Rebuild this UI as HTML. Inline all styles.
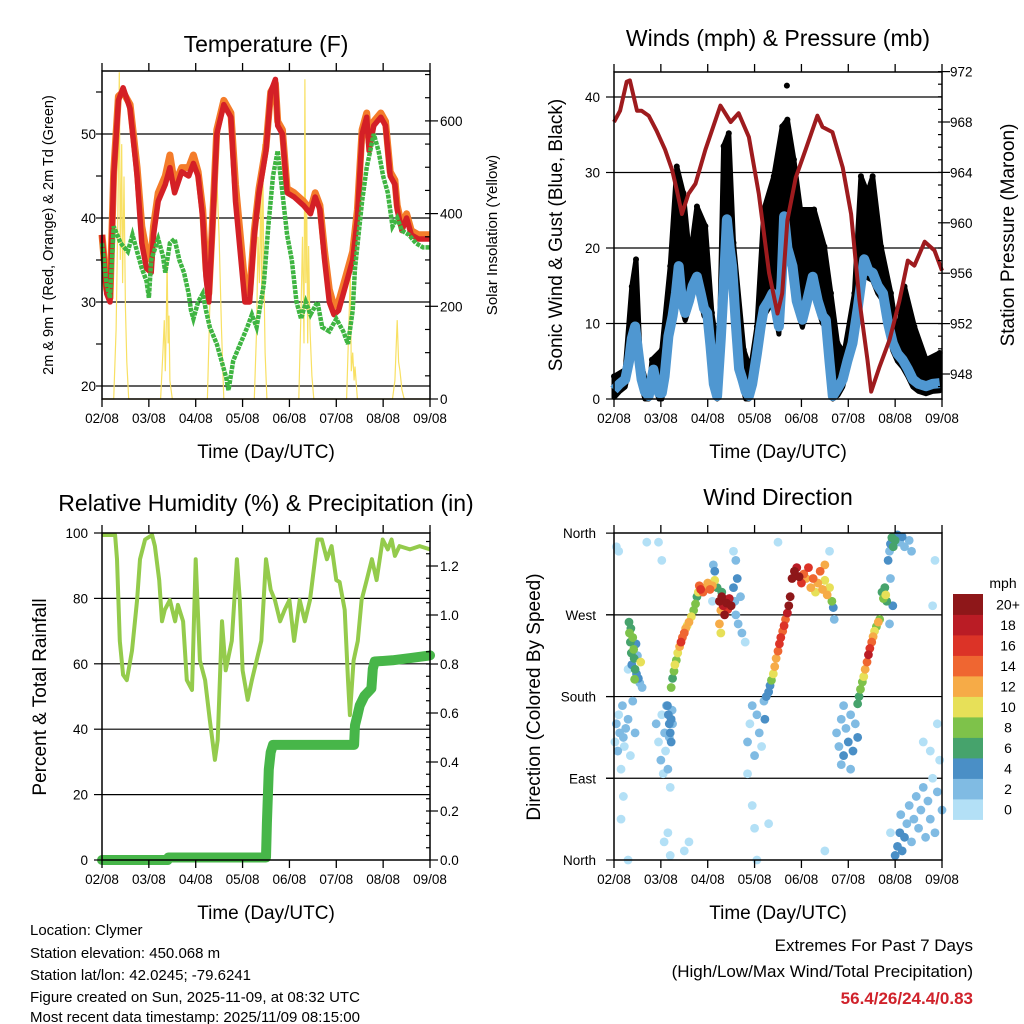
<!DOCTYPE html>
<html><head><meta charset="utf-8"><style>
html,body{margin:0;padding:0;background:#fff}
svg{display:block;font-family:"Liberation Sans",sans-serif}
</style></head><body>
<svg id="c" width="1024" height="1024" viewBox="0 0 1024 1024" xmlns="http://www.w3.org/2000/svg">
<rect width="1024" height="1024" fill="#fff"/>
<g id="p1"></g>
<g id="p2"></g>
<g id="p3"></g>
<g id="p4"></g>
<text x="266" y="52" font-size="23" text-anchor="middle">Temperature (F)</text>
<text x="778" y="46" font-size="23" text-anchor="middle">Winds (mph) &amp; Pressure (mb)</text>
<text x="266" y="511" font-size="23" text-anchor="middle">Relative Humidity (%) &amp; Precipitation (in)</text>
<text x="778" y="505" font-size="23" text-anchor="middle">Wind Direction</text>
<text transform="translate(53,235) rotate(-90)" font-size="14.5" text-anchor="middle">2m &amp; 9m T (Red, Orange) &amp; 2m Td (Green)</text>
<text transform="translate(497,235) rotate(-90)" font-size="15" text-anchor="middle">Solar Insolation (Yellow)</text>
<text transform="translate(562,235) rotate(-90)" font-size="19" text-anchor="middle">Sonic Wind &amp; Gust (Blue, Black)</text>
<text transform="translate(1014,235) rotate(-90)" font-size="19" text-anchor="middle">Station Pressure (Maroon)</text>
<text transform="translate(46,697) rotate(-90)" font-size="19" text-anchor="middle">Percent &amp; Total Rainfall</text>
<text transform="translate(540,697) rotate(-90)" font-size="19" text-anchor="middle">Direction (Colored By Speed)</text>
<text x="266" y="458" font-size="19" text-anchor="middle">Time (Day/UTC)</text>
<text x="778" y="458" font-size="19" text-anchor="middle">Time (Day/UTC)</text>
<text x="266" y="919" font-size="19" text-anchor="middle">Time (Day/UTC)</text>
<text x="778" y="919" font-size="19" text-anchor="middle">Time (Day/UTC)</text>
<g font-size="15">
<text x="30" y="935">Location: Clymer</text>
<text x="30" y="958">Station elevation: 450.068 m</text>
<text x="30" y="980">Station lat/lon: 42.0245; -79.6241</text>
<text x="30" y="1002">Figure created on Sun, 2025-11-09, at 08:32 UTC</text>
<text x="30" y="1024" dy="-2">Most recent data timestamp: 2025/11/09 08:15:00</text>
</g>
<text x="973" y="951" font-size="17" text-anchor="end">Extremes For Past 7 Days</text>
<text x="973" y="977" font-size="17" text-anchor="end">(High/Low/Max Wind/Total Precipitation)</text>
<text x="973" y="1004" font-size="17" font-weight="bold" fill="#d0222b" text-anchor="end">56.4/26/24.4/0.83</text>
</svg>
<script>
// ---------- data ----------
const dayLabels = ["02/08","03/08","04/08","05/08","06/08","07/08","08/08","09/08"];
const tT = [0,0.1,0.17,0.25,0.35,0.45,0.6,0.75,0.85,0.95,1.05,1.1,1.2,1.35,1.45,1.55,1.7,1.85,1.95,2.05,2.15,2.22,2.28,2.35,2.45,2.6,2.75,2.85,2.95,3.05,3.15,3.25,3.35,3.5,3.6,3.7,3.75,3.85,3.95,4.1,4.3,4.45,4.55,4.65,4.75,4.85,4.95,5.05,5.2,5.35,5.45,5.55,5.65,5.7,5.8,5.95,6.05,6.15,6.25,6.3,6.4,6.5,6.6,6.75,6.9,7];
const redT = [38,31,30,45,54,55.5,53,45,37,34,33.5,38,42,44,46,43,45.5,45,46.5,45,40,33,30,38,50,53.5,52,42,36,30,30,38,43,48,55,56.5,51,50,43,42.5,41.5,40.5,42.5,41,35,30,28.5,29,32,35,40,50,52,48,51,52,51,45,44,41,38.5,40,38,37.5,37.5,37.5];
const orangeT = [38,31.5,30.5,45.5,54.5,55,53.5,46,39,36,35,39,43,45,47.5,44,46,46,47.5,45.5,41,34,31,38.5,50.5,54,52.5,44,38,32,31,38.5,43.5,48.5,55,56,51.5,50.5,43.5,43,42,41,43,41.5,36,31.5,29.5,30,33,36,41,50.5,52.5,49,51.5,52.5,51.5,45.5,44.5,41.5,39,40.5,38.5,38,38,38];
const tD = [0,0.1,0.17,0.25,0.4,0.55,0.65,0.75,0.85,0.95,1.0,1.05,1.2,1.3,1.35,1.45,1.55,1.65,1.75,1.85,1.9,1.95,2.05,2.15,2.22,2.3,2.45,2.55,2.65,2.7,2.8,2.95,3.1,3.2,3.3,3.45,3.55,3.65,3.75,3.85,3.95,4.05,4.15,4.25,4.35,4.45,4.6,4.7,4.85,5.0,5.15,5.25,5.35,5.4,5.55,5.65,5.8,5.9,6.0,6.1,6.2,6.3,6.4,6.55,6.7,6.85,7];
const dewT = [37,32,30.5,39,37,36,38,36,34,32.5,30.5,35,37.5,35.5,33.5,37,37.5,35,33.5,31,29,28,30,31,29,27,25,23,21,19.5,23,25,27,28.5,27,32,39,45,48,43,38,35,30,28,30,28.5,30,27,26.5,28,26.5,25,29,34,42,46,50,48,45,43,39,40,38.5,38,37,36.5,36.5];
const tSol = [0,0.25,0.3,0.34,0.37,0.39,0.42,0.44,0.47,0.5,0.53,0.57,1.25,1.3,1.33,1.35,1.37,1.39,1.41,1.43,1.45,1.5,2.25,2.3,2.35,2.4,2.45,2.5,2.55,2.6,3.25,3.3,3.33,3.36,3.39,3.41,3.43,3.45,3.48,3.52,4.2,4.25,4.28,4.31,4.33,4.35,4.37,4.39,4.41,4.44,4.48,4.52,5.22,5.25,5.28,5.3,5.32,5.35,5.38,5.4,5.45,6.2,6.25,6.3,6.33,6.36,6.4,6.45,7];
const solar = [0,0,150,400,705,300,550,250,480,200,80,0,0,100,170,60,150,300,120,180,40,0,0,200,380,555,480,350,150,0,0,150,350,250,450,200,550,300,100,0,0,200,350,120,690,250,400,120,330,150,50,0,0,100,200,280,60,100,40,70,0,0,40,170,80,60,20,0,0];

const tPres = [0,0.13,0.27,0.34,0.49,0.59,0.74,0.91,1.09,1.24,1.34,1.45,1.59,1.74,1.95,2.27,2.49,2.66,2.88,3.09,3.31,3.49,3.59,3.7,3.88,4.09,4.34,4.45,4.66,4.88,5.06,5.24,5.41,5.49,5.66,5.88,6.09,6.27,6.41,6.63,6.84,7];
const pres = [968,968.9,971.2,971.3,968.9,968.9,968.5,967.3,965.8,964.2,962.6,960.7,962.3,963.1,965.8,969.3,968,968.7,966.8,962.3,956,952.8,954.4,960.2,963.6,965.8,968.5,967.6,967.2,964.4,960.7,953.8,949.1,946.6,948.5,950.7,953.8,957,956.6,958.5,957.8,956.2];
const tWind = [0,0.12,0.24,0.32,0.38,0.45,0.52,0.59,0.66,0.74,0.8,0.84,0.9,0.96,1.02,1.08,1.16,1.25,1.32,1.38,1.45,1.52,1.6,1.68,1.77,1.85,1.92,1.99,2.06,2.13,2.2,2.28,2.35,2.41,2.47,2.52,2.6,2.67,2.74,2.81,2.88,2.95,3.05,3.13,3.2,3.3,3.38,3.45,3.52,3.58,3.63,3.7,3.81,3.9,4.02,4.12,4.24,4.35,4.45,4.52,4.6,4.67,4.78,4.88,4.98,5.09,5.2,5.34,5.43,5.52,5.63,5.74,5.85,5.95,6.05,6.16,6.27,6.38,6.5,6.66,6.8,6.95];
const wind = [1.2,2,2.6,5,8,9.6,6,2.6,1,0.4,2.5,3.9,2,0.8,0.8,3,8.3,11,14,17.6,13,11.4,13,15,16.2,14,12,11.4,7,2,0.4,8,16,23.8,20,17.6,10,4,2.6,1,0.4,2,6,9.6,12,13,14,12,9.6,16,24.2,20,17.6,13,10.5,13,16.2,13,11,10.5,5,0.4,1.5,2.6,5,7.4,12,18.5,17,16.7,15,14,10,7.4,6,5.2,4,2.6,2,1.7,2,2.1];
const tGust = [0,0.24,0.38,0.47,0.56,0.74,0.81,1.02,1.2,1.34,1.48,1.62,1.77,1.95,2.09,2.24,2.34,2.45,2.55,2.77,2.91,3.05,3.2,3.41,3.59,3.7,3.84,3.98,4.27,4.49,4.63,4.77,4.91,5.13,5.27,5.41,5.52,5.7,5.91,6.05,6.2,6.41,6.66,6.95];
const gust = [3,3.9,14.9,18.5,5.2,0.8,5.2,6.5,17.6,30.8,27.3,18.5,25.5,22.9,11.4,5.2,33.5,35.2,20.7,6.5,3.9,9.6,25.1,29.5,36.1,37,31.7,25.1,25.1,20.2,14,7.4,6.1,14,29.5,27.3,29.5,20.2,14,8.3,14.9,9.6,5.2,6.1];
const gustOutlierT = [3.69];
const gustOutlier = [41.5];

const tPr = [0,1.4,1.42,3.5,3.52,3.56,3.6,3.65,5.38,5.4,5.45,5.5,5.6,5.75,5.78,5.82,6.2,6.6,7];
const precip = [0,0,0.01,0.01,0.15,0.37,0.44,0.47,0.47,0.55,0.59,0.63,0.67,0.7,0.78,0.81,0.815,0.825,0.835];
const tRH = [0,0.28,0.32,0.38,0.45,0.53,0.64,0.75,0.81,0.92,1.07,1.13,1.22,1.28,1.34,1.45,1.56,1.62,1.73,1.81,1.92,2.0,2.09,2.2,2.3,2.41,2.47,2.56,2.64,2.77,2.88,2.94,3.0,3.11,3.2,3.3,3.4,3.5,3.6,3.69,3.8,3.9,4.0,4.1,4.22,4.33,4.44,4.6,4.69,4.8,4.9,5.0,5.07,5.18,5.25,5.29,5.37,5.46,5.54,5.65,5.76,5.86,5.99,6.1,6.18,6.25,6.35,6.57,6.78,7];
const rh = [99.4,99.4,92,67,56.6,55,64,79.5,92,98,99.4,96,85.6,73,76.5,79.5,73,78,73,55,52,92,61,55,42.8,30.6,36.7,73,58,67,92,79.5,58,49,55,61,67,92,82.6,79.5,73,76.5,79.5,67,79.5,73,79.5,98,98,92,96,85.6,85,76.5,55,44.3,61,67,79.5,85.6,92,85.6,98,95,98,93,96,95,96,95];

const dirT = [0.02,0.05,0.08,0.1,0.12,0.15,0.18,0.2,0.22,0.25,0.3,0.35,0.4,0.45,0.05,0.15,0.1,0.3,0.2,0.3,
0.32,0.33,0.35,0.37,0.38,0.4,0.42,0.43,0.45,0.47,0.48,0.5,0.52,0.55,0.57,0.6,0.36,0.44,
0.9,0.95,1.0,1.02,1.05,1.08,1.1,1.12,1.15,1.18,1.2,1.25,1.02,0.95,1.07,1.15,1.2,
1.14,1.16,1.18,1.2,1.22,1.24,1.22,
1.22,1.25,1.28,1.3,1.33,1.36,1.4,1.43,1.46,1.5,1.53,1.56,1.6,1.65,1.7,1.74,1.77,1.8,
1.82,1.85,1.9,1.95,2.0,2.05,2.1,2.15,2.2,2.15,2.12,
2.25,2.28,2.3,2.33,2.36,2.4,2.43,2.46,2.5,2.25,2.28,2.3,
2.55,2.58,2.6,2.63,2.65,2.7,2.73,2.6,2.55,2.8,
2.85,2.9,2.95,3.0,3.05,3.1,3.15,3.2,3.22,3.25,2.95,3.0,3.05,2.85,
3.3,3.33,3.36,3.4,3.43,3.46,3.5,3.53,3.56,3.6,3.63,3.66,3.7,3.73,3.76,
3.8,3.85,3.9,3.95,4.0,4.05,4.1,4.15,
4.2,4.25,4.3,4.35,4.4,4.45,4.5,4.55,4.6,4.65,4.68,4.5,4.7,
4.75,4.8,4.85,4.9,4.95,5.0,5.05,5.1,5.15,5.2,4.85,4.9,5.05,
5.2,5.23,5.26,5.3,5.33,5.36,5.4,5.43,5.46,5.5,5.53,5.56,5.6,5.64,5.67,
5.72,5.75,5.78,5.8,5.82,
5.85,5.88,5.9,5.93,5.96,6.0,6.05,6.1,6.15,6.2,6.3,6.35,5.9,5.95,5.88,
6.0,6.05,6.1,6.12,6.15,6.2,6.25,6.3,6.35,6.4,6.45,6.5,6.55,6.6,6.65,6.7,6.75,6.8,6.85,6.9,6.95,7.0,6.6,6.75,6.9,
1.5,0.7,1.6,2.1,3.3,3.5,4.6,4.5,5.9,6.8,6.85];
const dirDeg = [130,150,120,160,140,100,170,135,125,145,155,115,175,140,345,45,340,0,70,210,
262,250,240,228,215,245,232,222,210,238,205,225,200,195,218,190,255,199,
150,130,110,160,95,140,120,170,100,135,80,150,330,350,20,30,5,
170,160,150,140,130,165,155,
190,200,208,215,220,228,235,240,245,250,255,258,262,268,275,282,290,295,
302,298,295,300,305,298,302,308,300,318,325,
285,275,290,280,270,283,276,288,280,260,250,295,
300,285,270,310,260,290,250,330,340,240,
130,150,170,115,160,140,125,175,155,180,60,35,0,95,
185,192,198,205,213,222,230,238,245,252,258,265,272,280,290,
310,318,322,312,305,315,310,322,
300,310,295,305,318,298,308,292,300,285,278,325,265,
140,125,155,115,145,130,160,120,150,135,105,170,100,
172,180,188,196,202,210,218,226,233,240,246,252,257,262,265,
295,288,300,292,285,
330,340,348,355,345,352,358,350,356,345,352,340,310,280,260,
5,15,30,50,10,25,40,60,20,45,70,35,55,80,25,65,45,90,30,75,110,55,130,120,150,
10,350,20,285,40,350,340,10,30,280,330];
const dirSpd = [1,2,2,1,2,1,2,2,1,2,2,1,2,3,1,1,0,0,1,1,
7,8,6,7,5,9,8,6,7,4,5,3,4,3,10,2,6,8,
2,1,2,1,1,2,1,3,2,2,1,3,0,1,0,1,0,
4,5,4,5,4,3,5,
8,6,9,10,8,11,13,16,15,14,12,11,13,10,9,8,7,10,
14,16,15,13,12,14,13,10,6,4,2,
20,12,20,18,20,20,16,18,20,12,10,6,
4,3,2,4,2,3,2,3,1,1,
2,1,2,2,3,2,1,3,4,4,1,1,0,1,
5,4,8,11,12,13,15,16,17,14,16,15,18,20,20,
20,20,18,20,16,14,12,16,
12,14,11,12,14,12,10,13,10,9,4,12,2,
2,3,2,4,3,4,2,4,3,4,2,3,2,
6,7,8,9,11,12,14,18,16,14,12,11,9,12,8,
7,8,6,10,7,
4,3,5,6,7,6,4,3,4,3,3,2,3,4,3,
4,5,4,3,4,4,3,2,3,2,3,2,3,2,2,3,2,1,2,2,1,3,1,1,1,
1,1,0,1,1,1,1,0,1,1,1];
const speedBins = ["0","2","4","6","8","10","12","14","16","18","20+"];
const speedColors = ["#b3e0f6","#80bbe3","#4a8fc6","#46a36c","#7ec24a","#e7e058","#f6ab47","#ef6631","#dc3327","#ba1c25","#8e1719"];

// ---------- helpers ----------
const NS = "http://www.w3.org/2000/svg";
function mk(tag, attrs, parent) {
  const e = document.createElementNS(NS, tag);
  for (const k in attrs) e.setAttribute(k, attrs[k]);
  parent.appendChild(e);
  return e;
}
function pathD(ts, vs, xf, yf) {
  let d = "";
  for (let i = 0; i < ts.length; i++) d += (i ? "L" : "M") + xf(ts[i]).toFixed(1) + "," + yf(vs[i]).toFixed(1);
  return d;
}
function frame(g, x0, x1, y0, y1, dayLbls) {
  const dx = (x1 - x0) / 7;
  for (let i = 0; i <= 7; i++) {
    const x = x0 + i * dx;
    const tk = mk("line", {x1: x, x2: x, y1: y1, y2: y1 + 8, stroke: "#000", "stroke-width": 1.3}, g);
    
    
    const tt = mk("line", {x1: x, x2: x, y1: y0, y2: y0 - 8, stroke: "#000", "stroke-width": 1.3}, g);
    
    
    const lb = mk("text", {x: x, y: y1 + 24, "font-size": 13.5, "text-anchor": "middle"}, g);
    lb.textContent = dayLbls[i];
    
    
  }
}
function border(g, x0, x1, y0, y1) {
  const r = mk("rect", {x: x0, y: y0, width: x1 - x0, height: y1 - y0, fill: "none", stroke: "#000", "stroke-width": 1.5}, g);
  
  
}
function hgrid(g, x0, x1, y) {
  const l = mk("line", {x1: x0, x2: x1, y1: y, y2: y, stroke: "#000", "stroke-width": 1.2}, g);
  
  
}
function ylab(g, x, y, txt, anchor, name) {
  const t = mk("text", {x: x, y: y + 5, "font-size": 13.5, "text-anchor": anchor}, g);
  t.textContent = txt;
  
  
}
function ytick(g, x, y, len, name) {
  const l = mk("line", {x1: x, x2: x + len, y1: y, y2: y, stroke: "#000", "stroke-width": 1.2}, g);
  
  
}

// ---------- panel 1: temperature ----------
(function () {
  const g = document.getElementById("p1");
  const x0 = 102, x1 = 430, y0 = 71, y1 = 399;
  const xs = t => x0 + t * (x1 - x0) / 7;
  const yT = v => 386 - (v - 20) * 8.4;
  const yS = w => 399 - w * 0.4635;
  [20, 30, 40, 50].forEach(v => hgrid(g, x0, x1, yT(v)));
  const sol = mk("path", {d: pathD(tSol, solar, xs, yS), fill: "none", stroke: "#f8e063", "stroke-width": 1.2}, g);
  
  
  const or = mk("path", {d: pathD(tT, orangeT, xs, yT), fill: "none", stroke: "#f47c2a", "stroke-width": 7, "stroke-linejoin": "round"}, g);
  
  
  const rd = mk("path", {d: pathD(tT, redT, xs, yT), fill: "none", stroke: "#d42026", "stroke-width": 5.5, "stroke-linejoin": "round"}, g);
  
  
  const dw = mk("path", {d: pathD(tD, dewT, xs, yT), fill: "none", stroke: "#3fb542", "stroke-width": 4.5, "stroke-dasharray": "4 1"}, g);
  
  
  border(g, x0, x1, y0, y1);
  frame(g, x0, x1, y0, y1, dayLabels);
  [20, 30, 40, 50].forEach(v => { ylab(g, 96, yT(v), String(v), "end", "temp-y-label"); });
  for (let v = 20; v <= 55; v += 5) ytick(g, x0 - 6, yT(v), 6, "temp-y-tick");
  [0, 200, 400, 600].forEach(v => { ylab(g, 440, yS(v), String(v), "start", "solar-y-label"); ytick(g, x1, yS(v), 8, "solar-y-tick"); });
  for (let v = 50; v <= 700; v += 50) ytick(g, x1 - 5, yS(v), 5, "solar-minor-tick");
})();

// ---------- panel 2: winds ----------
(function () {
  const g = document.getElementById("p2");
  const x0 = 614, x1 = 942, y0 = 72, y1 = 399;
  const xs = t => x0 + t * (x1 - x0) / 7;
  const yW = m => 399 - m * 7.55;
  const yP = p => 374 - (p - 948) * 12.6;
  [10, 20, 30, 40].forEach(v => hgrid(g, x0, x1, yW(v)));
  let d = pathD(tGust, gust, xs, yW);
  for (let i = tWind.length - 1; i >= 0; i--) d += "L" + xs(tWind[i]).toFixed(1) + "," + yW(Math.max(0, wind[i] - 1)).toFixed(1);
  d += "Z";
  const cloud = mk("path", {d: d, fill: "#000", stroke: "#000", "stroke-width": 5, "stroke-linejoin": "round"}, g);
  
  
  for (let i = 0; i < tGust.length; i++) {
    const c = mk("circle", {cx: xs(tGust[i]), cy: yW(gust[i]), r: 3}, g);
    
    
  }
  for (let i = 0; i < gustOutlierT.length; i++) {
    const c = mk("circle", {cx: xs(gustOutlierT[i]), cy: yW(gustOutlier[i]), r: 3}, g);
    
    
  }
  const bl = mk("path", {d: pathD(tWind, wind, xs, yW), fill: "none", stroke: "#4f97d1", "stroke-width": 10, "stroke-linejoin": "round"}, g);
  
  
  const pr = mk("path", {d: pathD(tPres, pres, xs, yP), fill: "none", stroke: "#9e1b1e", "stroke-width": 4, "stroke-linejoin": "round"}, g);
  
  
  border(g, x0, x1, y0, y1);
  frame(g, x0, x1, y0, y1, dayLabels);
  [0, 10, 20, 30, 40].forEach(v => { ylab(g, 600, yW(v), String(v), "end", "wind-y-label"); ytick(g, x0 - 8, yW(v), 8, "wind-y-tick"); });
  [948, 952, 956, 960, 964, 968, 972].forEach(v => { ylab(g, 950, yP(v), String(v), "start", "pressure-y-label"); ytick(g, x1, yP(v), 8, "pressure-y-tick"); });
  for (let v = 947; v <= 972; v++) ytick(g, x1 - 4, yP(v), 4, "pressure-minor-tick");
})();

// ---------- panel 3: humidity ----------
(function () {
  const g = document.getElementById("p3");
  const x0 = 102, x1 = 430, y0 = 533, y1 = 860;
  const xs = t => x0 + t * (x1 - x0) / 7;
  const yR = r => 860 - r * 3.27;
  const yPr = v => 860 - v * 245;
  [20, 40, 60, 80].forEach(v => hgrid(g, x0, x1, yR(v)));
  const rl = mk("path", {d: pathD(tRH, rh, xs, yR), fill: "none", stroke: "#94cb4c", "stroke-width": 4, "stroke-linejoin": "round"}, g);
  
  
  const pl = mk("path", {d: pathD(tPr, precip, xs, yPr), fill: "none", stroke: "#47b649", "stroke-width": 10, "stroke-linejoin": "round", "stroke-linecap": "round"}, g);
  
  
  border(g, x0, x1, y0, y1);
  frame(g, x0, x1, y0, y1, dayLabels);
  [0, 20, 40, 60, 80, 100].forEach(v => { ylab(g, 88, yR(v), String(v), "end", "humidity-y-label"); ytick(g, x0 - 8, yR(v), 8, "humidity-y-tick"); });
  ["0.0", "0.2", "0.4", "0.6", "0.8", "1.0", "1.2"].forEach(s => { const v = parseFloat(s); ylab(g, 440, yPr(v), s, "start", "precip-y-label"); ytick(g, x1, yPr(v), 8, "precip-y-tick"); });
  for (let v = 0.05; v < 1.33; v += 0.05) ytick(g, x1 - 4, yPr(v), 4, "precip-minor-tick");
})();

// ---------- panel 4: wind direction ----------
(function () {
  const g = document.getElementById("p4");
  const x0 = 614, x1 = 942, y0 = 533, y1 = 860;
  const xs = t => x0 + t * (x1 - x0) / 7;
  const yD = d => 860 - d * 0.908;
  [90, 180, 270].forEach(v => hgrid(g, x0 - 8, x1, yD(v)));
  const order = dirSpd.map((s, i) => i).sort((a, b) => dirSpd[a] - dirSpd[b]);
  for (const i of order) {
    const bin = Math.min(10, Math.floor(dirSpd[i] / 2));
    const c = mk("circle", {cx: xs(dirT[i]), cy: yD(dirDeg[i]), r: 4.4, fill: speedColors[bin]}, g);
    
    
  }
  border(g, x0, x1, y0, y1);
  frame(g, x0, x1, y0, y1, dayLabels);
  const dn = ["North", "East", "South", "West", "North"];
  for (let i = 0; i < 5; i++) { ylab(g, 596, yD(i * 90), dn[i], "end", "direction-y-label"); ytick(g, x0 - 8, yD(i * 90), 8, "direction-y-tick"); }
  const lg = mk("g", {}, g);
  
  
  const mt = mk("text", {x: 1003, y: 588, "font-size": 14, "text-anchor": "middle"}, lg);
  mt.textContent = "mph";
  
  
  const bh = 20.5;
  for (let k = 0; k < speedBins.length; k++) {
    const y = 594 + (10 - k) * bh;
    const r = mk("rect", {x: 953, y: y, width: 30, height: bh + 0.4, fill: speedColors[k]}, lg);
    
    
    const t = mk("text", {x: 1008, y: y + bh / 2 + 5, "font-size": 14, "text-anchor": "middle"}, lg);
    t.textContent = speedBins[k];
    
    
  }
})();
</script>
</body></html>
